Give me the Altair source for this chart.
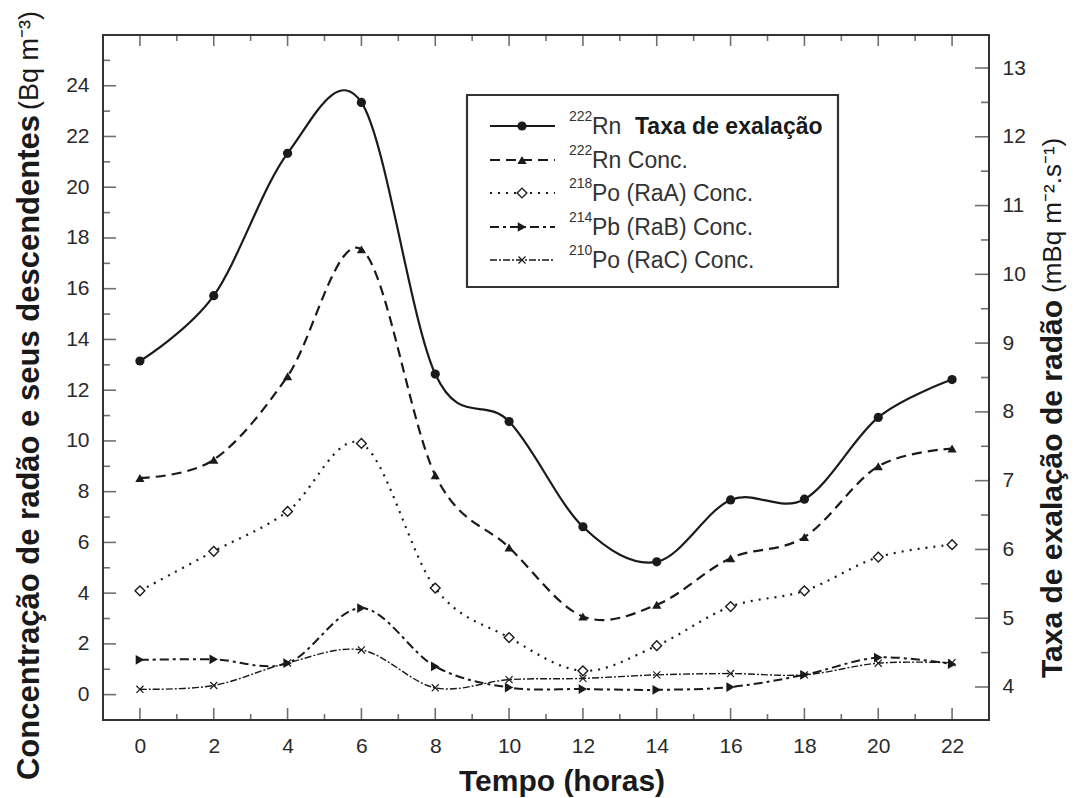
import altair as alt
import pandas as pd

# ---------------- data ----------------
hours = [0, 2, 4, 6, 8, 10, 12, 14, 16, 18, 20, 22]
# right axis (mBq m-2 s-1)
rn_exhalation = [8.74, 9.69, 11.76, 12.50, 8.55, 7.86, 6.33, 5.82, 6.72, 6.73, 7.92, 8.47]
# left axis (Bq m-3)
rn_conc = [8.54, 9.26, 12.55, 17.55, 8.65, 5.80, 3.08, 3.54, 5.38, 6.21, 9.00, 9.70]
po218_conc = [4.09, 5.65, 7.22, 9.90, 4.20, 2.25, 0.94, 1.93, 3.47, 4.09, 5.42, 5.91]
pb214_conc = [1.37, 1.39, 1.24, 3.41, 1.11, 0.28, 0.22, 0.19, 0.30, 0.78, 1.46, 1.20]
po210_conc = [0.21, 0.36, 1.25, 1.76, 0.27, 0.59, 0.64, 0.78, 0.83, 0.78, 1.24, 1.26]

isotopes = ["222", "222", "218", "214", "210"]
legend_names = ["Rn", "Rn Conc.", "Po (RaA) Conc.", "Pb (RaB) Conc.", "Po (RaC) Conc."]
legend_bold_extra = "Taxa de exalação"

x_major = list(range(0, 23, 2))
x_minor = list(range(1, 23, 2))
left_major = list(range(0, 25, 2))
left_minor = list(range(1, 26, 2))
right_major = list(range(4, 14))
right_minor = [4.5, 5.5, 6.5, 7.5, 8.5, 9.5, 10.5, 11.5, 12.5]

x_title = "Tempo (horas)"
left_title = "Concentração de radão e seus descendentes"
left_unit = "(Bq m⁻³)"
right_title = "Taxa de exalação de radão"
right_unit = "(mBq m⁻².s⁻¹)"

# ---------------- layout ----------------
W, H = 886, 685
FONT = "Liberation Sans"
INK = "#1a1a1a"
TICK = "#333"

xs = alt.Scale(domain=[-1, 23], nice=False, zero=False)
ls = alt.Scale(domain=[-1, 26], nice=False, zero=False)
rs = alt.Scale(domain=[3.52, 13.48], nice=False, zero=False)

label_kw = dict(labelFont=FONT, labelFontSize=21, labelColor="#2a2a2a", ticks=False, domain=False,
                grid=False, title=None)
X_AXIS = alt.Axis(values=x_major, labelPadding=15, **label_kw)


def X(field="h:Q"):
    return alt.X(field, scale=xs, axis=X_AXIS)


styles = [
    dict(values=rn_exhalation, scale=rs, line=dict(strokeWidth=2.2),
         pt=dict(shape="circle", size=85, filled=True, color=INK)),
    dict(values=rn_conc, scale=ls, line=dict(strokeWidth=2.2, strokeDash=[10, 6]),
         pt=dict(shape="triangle-up", size=85, filled=True, color=INK)),
    dict(values=po218_conc, scale=ls, line=dict(strokeWidth=2.2, strokeDash=[2, 6]),
         pt=dict(shape="diamond", size=95, filled=True, fill="white", stroke=INK, strokeWidth=1.4)),
    dict(values=pb214_conc, scale=ls, line=dict(strokeWidth=2.0, strokeDash=[9, 4, 3, 4]),
         pt=dict(shape="triangle-right", size=95, filled=True, color=INK)),
    dict(values=po210_conc, scale=ls, line=dict(strokeWidth=1.4, strokeDash=[7, 2, 2, 2]),
         pt=dict(shape="M-1,-1L1,1M-1,1L1,-1", size=50, filled=False, stroke=INK, strokeWidth=1.2)),
]

layers = []

# ---- inward ticks (these layers also carry the labelled axes) ----
def xticks(vals, y_center, length):
    return alt.Chart(pd.DataFrame({"v": vals})).mark_tick(color=TICK, thickness=1.6, size=length).encode(
        x=X("v:Q"), y=alt.value(y_center))


def yticks(vals, scale, axis, x_center, length):
    return alt.Chart(pd.DataFrame({"v": vals})).mark_tick(color=TICK, thickness=1.6, size=length).encode(
        y=alt.Y("v:Q", scale=scale, axis=axis), x=alt.value(x_center))


layers += [
    xticks(x_major, H - 6, 12),
    xticks(x_minor, H - 3, 6),
    xticks(x_major, 5.5, 11),
    xticks(x_minor, 3, 6),
    yticks(left_major, ls, alt.Axis(orient="left", values=left_major, labelPadding=14, **label_kw), 6.5, 13),
    yticks(left_minor, ls, None, 3.5, 7),
    yticks(right_major, rs, alt.Axis(orient="right", values=right_major, labelPadding=13, **label_kw), W - 7, 14),
    yticks(right_minor, rs, None, W - 4, 8),
]

# ---- data series ----
for st in styles:
    df = pd.DataFrame({"h": hours, "v": st["values"]})
    base = alt.Chart(df)
    enc = dict(x=X(), y=alt.Y("v:Q", scale=st["scale"], axis=None))
    layers.append(base.mark_line(interpolate="cardinal", tension=0, color=INK, **st["line"]).encode(**enc))
    layers.append(base.mark_point(opacity=1, **st["pt"]).encode(**enc))


# ---- titles ----
def text_layer(txt, x, y, size, weight="normal", angle=0, align="center", baseline="middle", color=INK):
    kw = dict(font=FONT, fontSize=size, fontWeight=weight, align=align, baseline=baseline, color=color)
    if angle:
        kw["angle"] = angle
    return alt.Chart(pd.DataFrame({"t": [txt]})).mark_text(**kw).encode(
        text="t:N", x=alt.value(x), y=alt.value(y))


layers.append(text_layer(x_title, 459, 747, 30, "bold"))
layers.append(text_layer(left_title, -73, 80, 31, "bold", angle=270, align="right"))
layers.append(text_layer(left_unit, -73, 75, 27, "normal", angle=270, align="left"))
layers.append(text_layer(right_title, 950, 265, 30, "bold", angle=270, align="right"))
layers.append(text_layer(right_unit, 950, 258, 26, "normal", angle=270, align="left"))

# ---- legend ----
layers.append(alt.Chart(pd.DataFrame({"a": [0]})).mark_rect(fill="white", stroke="#333", strokeWidth=2.2).encode(
    x=alt.value(364), x2=alt.value(735), y=alt.value(60), y2=alt.value(252)))
row_y = [91, 125, 158, 192, 225]
for i, st in enumerate(styles):
    yy = row_y[i]
    layers.append(alt.Chart(pd.DataFrame({"a": [0]})).mark_rule(color=INK, **st["line"]).encode(
        x=alt.value(387), x2=alt.value(452), y=alt.value(yy)))
    layers.append(alt.Chart(pd.DataFrame({"a": [0]})).mark_point(opacity=1, **st["pt"]).encode(
        x=alt.value(419), y=alt.value(yy)))
    layers.append(text_layer(isotopes[i], 466, yy - 9, 14, align="left", color="#333"))
    layers.append(text_layer(legend_names[i], 489, yy + 1, 23, align="left", color="#333"))
layers.append(text_layer(legend_bold_extra, 532, row_y[0] + 1, 23, "bold", align="left"))

chart = alt.layer(*layers).resolve_scale(y="independent").properties(
    width=W, height=H,
    autosize=alt.AutoSizeParams(type="none"),
    padding={"left": 95, "top": 27, "right": 83, "bottom": 77},
    background="white",
).configure_view(stroke="#333", strokeWidth=2)

chart.save("out.html", embed_options={"renderer": "svg", "actions": False})
